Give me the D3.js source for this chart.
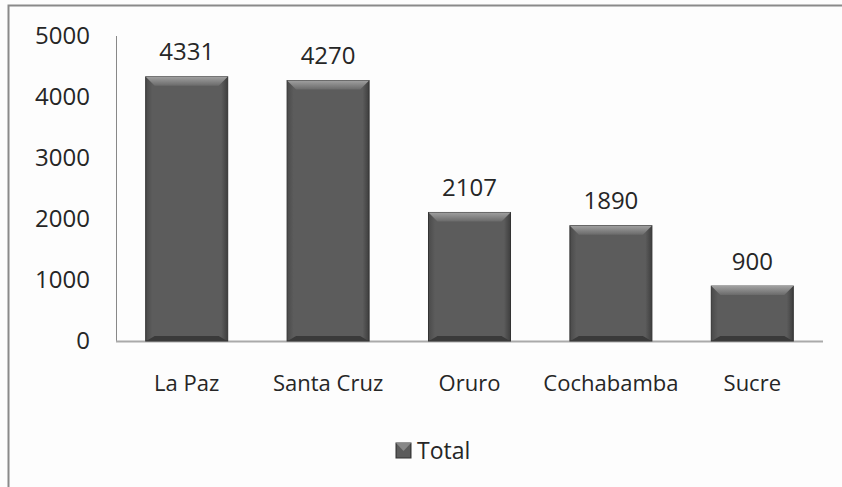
<!DOCTYPE html>
<html><head><meta charset="utf-8">
<script src="https://cdn.jsdelivr.net/npm/d3@7"></script>
<style>body{margin:0;background:#fff}svg{display:block}</style>
</head><body>
<svg id="c" width="842" height="487"></svg>
<script>
const categories = ["La Paz","Santa Cruz","Oruro","Cochabamba","Sucre"];
const values = [4331,4270,2107,1890,900];
const yTicks = [0,1000,2000,3000,4000,5000];
const seriesName = "Total";

const svg = d3.select("#c");
const font = "'Open Sans', 'Noto Sans', sans-serif";
svg.append("rect").attr("width",842).attr("height",487).attr("fill","#fdfdfd");
// frame
svg.append("path").attr("d","M8.5,487 V5.5 H842").attr("fill","none").attr("stroke","#8a8a8a").attr("stroke-width",2);

const x = d3.scaleBand().domain(categories).range([116,823]).paddingInner(0.42).paddingOuter(0.21);
const y = d3.scaleLinear().domain([0,5000]).range([341,36]);

const defs = svg.append("defs");
const gMain = defs.append("linearGradient").attr("id","gm").attr("x1",0).attr("x2",1).attr("y1",0).attr("y2",0);
gMain.append("stop").attr("offset",0).attr("stop-color","#4a4a4a");
gMain.append("stop").attr("offset",0.08).attr("stop-color","#5c5c5c");
gMain.append("stop").attr("offset",0.92).attr("stop-color","#5c5c5c");
gMain.append("stop").attr("offset",1).attr("stop-color","#3e3e3e");
const gTop = defs.append("linearGradient").attr("id","gt").attr("x1",0).attr("x2",0).attr("y1",0).attr("y2",1);
gTop.append("stop").attr("offset",0).attr("stop-color","#a0a0a0");
gTop.append("stop").attr("offset",1).attr("stop-color","#6a6a6a");

// axes
svg.append("line").attr("x1",116.5).attr("x2",116.5).attr("y1",y(5000)).attr("y2",y(0)).attr("stroke","#888").attr("stroke-width",1);
svg.append("line").attr("x1",116).attr("x2",823).attr("y1",y(0)+0.5).attr("y2",y(0)+0.5).attr("stroke","#aaa").attr("stroke-width",2);

svg.append("g").selectAll("text").data(yTicks).join("text")
  .attr("x",90).attr("y",d=>y(d)).attr("dy","0.35em").attr("text-anchor","end")
  .attr("font-family",font).attr("font-size",24).attr("fill","#262626").text(d=>d);

const bw = x.bandwidth(), bev = 9;
const bars = svg.append("g").selectAll("g").data(values).join("g");
bars.append("rect").attr("x",(d,i)=>x(categories[i])).attr("y",d=>y(d)).attr("width",bw).attr("height",d=>y(0)-y(d))
  .attr("fill","url(#gm)").attr("stroke","#333").attr("stroke-width",1);
bars.append("path").attr("d",(d,i)=>{const x0=x(categories[i]),y0=y(d);return `M${x0},${y0} H${x0+bw} L${x0+bw-bev},${y0+bev} H${x0+bev} Z`;})
  .attr("fill","url(#gt)");
bars.append("path").attr("d",(d,i)=>{const x0=x(categories[i]),y1=y(0);return `M${x0+0.5},${y1} L${x0+bev},${y1-5} H${x0+bw-bev} L${x0+bw-0.5},${y1} Z`;})
  .attr("fill","#3a3a3a");
bars.append("text").attr("x",(d,i)=>x(categories[i])+bw/2).attr("y",d=>y(d)-25).attr("dy","0.35em")
  .attr("text-anchor","middle").attr("font-family",font).attr("font-size",24).attr("fill","#262626").text(d=>d);

svg.append("g").selectAll("text").data(categories).join("text")
  .attr("x",d=>x(d)+bw/2).attr("y",383).attr("dy","0.35em").attr("text-anchor","middle")
  .attr("font-family",font).attr("font-size",22).attr("fill","#262626").text(d=>d);

// legend
const lg = svg.append("g");
lg.append("rect").attr("x",396).attr("y",443).attr("width",15).attr("height",15).attr("fill","url(#gm)").attr("stroke","#333");
lg.append("path").attr("d","M396,443 H411 L403.5,451 Z").attr("fill","#888");
lg.append("text").attr("x",417).attr("y",451).attr("dy","0.35em").attr("font-family",font).attr("font-size",23).attr("fill","#262626").text(seriesName);
</script>
</body></html>
